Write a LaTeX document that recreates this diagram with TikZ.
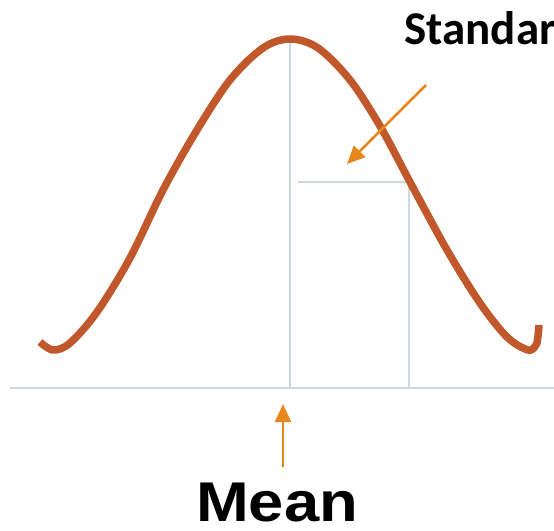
\documentclass[tikz,border=0pt]{standalone}
\usepackage{fontspec}
\setmainfont{Liberation Sans}
\newfontfamily\carlito{Carlito}
\usetikzlibrary{arrows.meta}
\definecolor{curvec}{HTML}{C0582B}
\definecolor{arrowc}{HTML}{E8871E}
\definecolor{gridc}{HTML}{CAD9E6}
\tikzset{
  guide/.style={draw=gridc, line width=1.8pt},
  bell/.style={draw=curvec, line width=7.5pt, line cap=butt, line join=round},
  pointer/.style={draw=arrowc, line width=2.5pt, -{Triangle[length=18pt,width=16pt]}},
}
\begin{document}
\begin{tikzpicture}[x=1pt,y=-1pt]
\useasboundingbox (0,0) rectangle (554,530);
% guide lines
\coordinate (b0) at (10,388);
\coordinate (b1) at (554,388);
\coordinate (top) at (290,38);
\coordinate (mbase) at (290,388);
\coordinate (h0) at (298,182);
\coordinate (h1) at (410,182);
\coordinate (hv) at (409,182);
\coordinate (sbase) at (409,388);
\draw[guide] (b0) -- (b1);
\draw[guide] (top) -- (mbase);
\draw[guide] (h0) -- (h1);
\draw[guide] (hv) -- (sbase);
% bell curve
\draw[bell] plot[smooth, tension=0.55] coordinates {
 (40,342) (53,350) (70,343) (97,312) (130,258) (163,190) (197,130) (230,80) (263,48) (290,39)
 (318,48) (350,80) (380,126) (410,182) (447,250) (480,303) (507,337) (528,350) (536,345) (538,336) (539,325)};
% texts
\node[anchor=base west, inner sep=0pt, font=\carlito\bfseries\fontsize{47}{47}\selectfont] (std) at (404,44) {Standard};
\node[anchor=base, inner sep=0pt, text depth=0pt, font=\bfseries\fontsize{56}{56}\selectfont, xscale=1.13] (mean) at (277,521) {Mean};
% arrows
\coordinate (ms) at (283,467);
\coordinate (me) at (283,404);
\draw[pointer] (ms) -- (me);
\coordinate (ss) at (426,85);
\coordinate (se) at (347,164);
\draw[pointer] (ss) -- (se);
\end{tikzpicture}
\end{document}
